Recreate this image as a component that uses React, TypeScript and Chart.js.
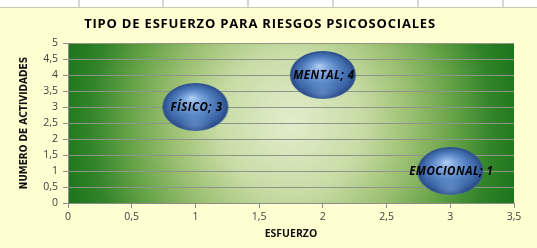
import React, { useEffect, useRef } from "react";
import { Chart, registerables } from "chart.js";

Chart.register(...registerables);

const TITLE = "TIPO DE ESFUERZO PARA RIESGOS PSICOSOCIALES";
const X_TITLE = "ESFUERZO";
const Y_TITLE = "NUMERO DE ACTIVIDADES";
const categories = ["FÍSICO", "MENTAL", "EMOCIONAL"];
const xValues = [1, 2, 3];
const yValues = [3, 4, 1];
const bubbleSizes = [1, 1, 1];

const W = 537;
const H = 240;

function makeSphere(): HTMLCanvasElement {
  const w = 68;
  const h = 50;
  const c = document.createElement("canvas");
  c.width = w;
  c.height = h;
  const ctx = c.getContext("2d")!;
  const r = w / 2 - 1;
  ctx.save();
  ctx.translate(w / 2, h / 2);
  ctx.scale(1, (h - 2) / (w - 2));
  const g = ctx.createRadialGradient(-r * 0.12, -r * 0.38, 0, 0, 0, r);
  g.addColorStop(0, "#b4d0f2");
  g.addColorStop(0.22, "#84abe0");
  g.addColorStop(0.55, "#5482c2");
  g.addColorStop(0.85, "#3a62a2");
  g.addColorStop(0.96, "#2c4d88");
  g.addColorStop(1, "#3a5f9c");
  ctx.beginPath();
  ctx.arc(0, 0, r, 0, Math.PI * 2);
  ctx.fillStyle = g;
  ctx.fill();
  const g2 = ctx.createRadialGradient(0, r * 0.75, 0, 0, r * 0.75, r * 0.5);
  g2.addColorStop(0, "rgba(150,190,240,0.35)");
  g2.addColorStop(1, "rgba(150,190,240,0)");
  ctx.fillStyle = g2;
  ctx.fill();
  ctx.restore();
  return c;
}

const bgPlugin = {
  id: "plotBg",
  beforeDraw(chart: any) {
    const { ctx, chartArea: a } = chart;
    ctx.save();
    const cx = (a.left + a.right) / 2;
    const cy = (a.top + a.bottom) / 2;
    const rad = Math.hypot(a.right - a.left, a.bottom - a.top) / 2;
    const g = ctx.createRadialGradient(cx, cy, 0, cx, cy, rad);
    g.addColorStop(0, "#e2edcc");
    g.addColorStop(0.3, "#c8dca6");
    g.addColorStop(0.5, "#9cc072");
    g.addColorStop(0.7, "#62a044");
    g.addColorStop(0.85, "#32842a");
    g.addColorStop(1, "#1a731a");
    ctx.fillStyle = g;
    ctx.fillRect(a.left, a.top, a.right - a.left, a.bottom - a.top);
    ctx.restore();
  },
};

const textPlugin = {
  id: "texts",
  afterDatasetsDraw(chart: any) {
    const { ctx } = chart;
    ctx.save();
    ctx.fillStyle = "#000000";
    ctx.textAlign = "center";
    ctx.textBaseline = "middle";
    ctx.font = "italic bold 11.5px 'Open Sans'";
    (ctx as any).letterSpacing = "0.5px";
    const meta = chart.getDatasetMeta(0);
    meta.data.forEach((pt: any, i: number) => {
      ctx.fillText(`${categories[i]}; ${yValues[i]}`, pt.x + 1, pt.y + 1);
    });
    ctx.restore();
  },
  afterDraw(chart: any) {
    const { ctx } = chart;
    ctx.save();
    ctx.fillStyle = "#000000";
    ctx.textAlign = "center";
    ctx.textBaseline = "middle";
    ctx.font = "bold 13px 'Open Sans'";
    (ctx as any).letterSpacing = "0.8px";
    ctx.fillText(TITLE, 260, 16);
    ctx.restore();
  },
};

const fmt = (v: number) => String(v).replace(".", ",");

export default function App() {
  const ref = useRef<HTMLCanvasElement>(null);

  useEffect(() => {
    document.body.style.margin = "0";
    const sphere = makeSphere();
    const chart = new Chart(ref.current!, {
      type: "bubble",
      data: {
        datasets: [
          {
            label: "ESFUERZO",
            data: xValues.map((x, i) => ({ x, y: yValues[i], r: bubbleSizes[i] * 20 })),
            pointStyle: sphere as any,
            backgroundColor: "#4f81bd",
          },
        ],
      },
      options: {
        responsive: false,
        animation: false,
        events: [],
        devicePixelRatio: 1,
        layout: { padding: { top: 35, right: 23, left: 0, bottom: 0 } },
        plugins: {
          legend: { display: false },
          title: { display: false },
          tooltip: { enabled: false },
        },
        scales: {
          x: {
            type: "linear",
            min: 0,
            max: 3.5,
            afterFit: (s: any) => {
              s.height = 45;
            },
            ticks: {
              stepSize: 0.5,
              callback: (v: any) => fmt(v),
              color: "#404040",
              font: { family: "'Open Sans'", size: 10.5 },
              padding: 3,
              maxRotation: 0,
            },
            grid: {
              drawOnChartArea: false,
              drawTicks: true,
              tickLength: 5,
              tickColor: "#8c8c8c",
            },
            border: { color: "#8c8c8c" },
            title: {
              display: true,
              text: X_TITLE,
              color: "#111111",
              font: { family: "'Open Sans'", size: 10.5, weight: "bold" },
              padding: { top: 0, bottom: 8 },
            },
          },
          y: {
            type: "linear",
            min: 0,
            max: 5,
            afterFit: (s: any) => {
              s.width = 68;
            },
            ticks: {
              stepSize: 0.5,
              callback: (v: any) => fmt(v),
              color: "#404040",
              font: { family: "'Open Sans'", size: 10.5 },
              padding: 5,
            },
            grid: {
              drawOnChartArea: true,
              color: "#8f958a",
              lineWidth: 1,
              tickLength: 5,
              tickColor: "#8c8c8c",
            },
            border: { color: "#8c8c8c" },
            title: {
              display: true,
              text: Y_TITLE,
              color: "#111111",
              font: { family: "'Liberation Sans Narrow', 'DejaVu Sans Condensed', sans-serif", size: 10, weight: "bold" },
              padding: { top: 18, bottom: 0 },
            },
          },
        },
      },
      plugins: [bgPlugin, textPlugin],
    });
    return () => chart.destroy();
  }, []);

  const cols = [78, 162, 247, 332, 417, 502];
  return (
    <div style={{ position: "relative", width: W, height: 248, overflow: "hidden", background: "#FFFFD1" }}>
      <div style={{ position: "absolute", left: 0, top: 0, width: W, height: 7, background: "#ffffff", borderBottom: "1px solid #c8c8b8" }}>
        {cols.map((x) => (
          <div key={x} style={{ position: "absolute", left: x, top: 0, width: 2, height: 7, background: "#d6d6d6" }} />
        ))}
      </div>
      <canvas ref={ref} width={W} height={H} style={{ position: "absolute", left: 0, top: 8, width: W, height: H }} />
    </div>
  );
}
